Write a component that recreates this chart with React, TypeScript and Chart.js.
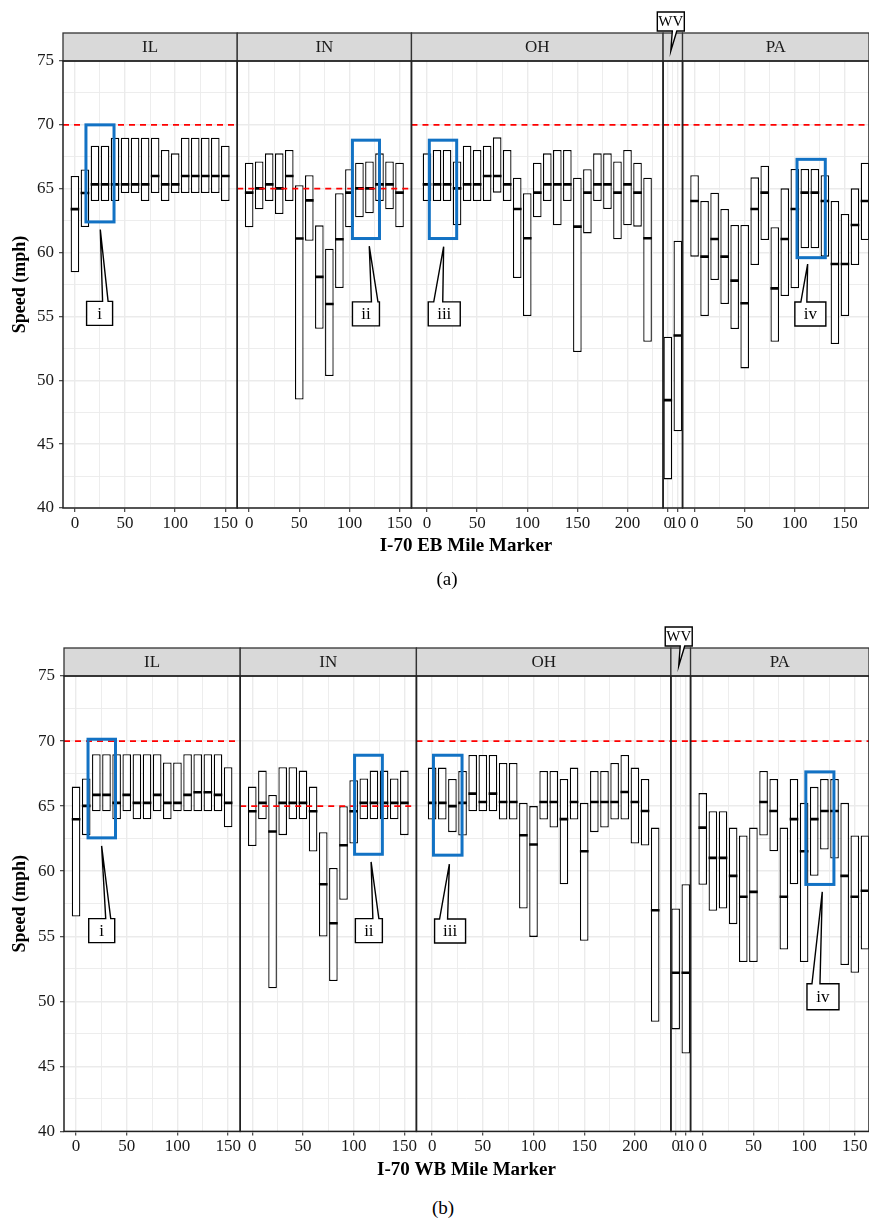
import React, { useEffect, useRef } from 'react';
import { Chart, registerables } from 'chart.js';

Chart.register(...registerables);

const SERIF = "'Liberation Serif', 'Times New Roman', Times, serif";
Chart.defaults.font.family = SERIF;

const STATES = ['IL', 'IN', 'OH', 'WV', 'PA'];
const SPEED_LIMITS = [70, 65, 70, 70, 70];

// Mile markers of the boxes
const MILES_IL = [0, 10, 20, 30, 40, 50, 60, 70, 80, 90, 100, 110, 120, 130, 140, 150];
const MILES_IN = [0, 10, 20, 30, 40, 50, 60, 70, 80, 90, 100, 110, 120, 130, 140, 150];
const MILES_OH = [0, 10, 20, 30, 40, 50, 60, 70, 80, 90, 100, 110, 120, 130, 140, 150, 160, 170, 180, 190, 200, 210, 220];
const MILES_WV = [0, 10];
const MILES_PA_EB = [0, 10, 20, 30, 40, 50, 60, 70, 80, 90, 100, 110, 120, 130, 140, 150, 160, 170];
const MILES_PA_WB = [0, 10, 20, 30, 40, 50, 60, 70, 80, 90, 100, 110, 120, 130, 140, 150, 160];

// ---------- I-70 EB ----------
const EB_IL_LOW = [58.45, 62.0, 64.04, 64.04, 64.04, 64.66, 64.66, 64.04, 64.66, 64.04, 64.66, 64.66, 64.66, 64.66, 64.66, 64.04];
const EB_IL_MED = [63.4, 64.66, 65.34, 65.34, 65.34, 65.34, 65.34, 65.34, 66.0, 65.34, 65.34, 66.0, 66.0, 66.0, 66.0, 66.0];
const EB_IL_HIGH = [66.0, 66.5, 68.37, 68.37, 69.0, 69.0, 69.0, 69.0, 69.0, 68.03, 67.77, 69.0, 69.0, 69.0, 69.0, 68.37];

const EB_IN_LOW = [61.98, 63.39, 64.04, 63.02, 64.04, 48.5, 60.93, 54.04, 50.33, 57.22, 61.98, 62.76, 63.07, 64.04, 63.39, 61.98];
const EB_IN_MED = [64.69, 65.03, 65.34, 65.03, 66.0, 61.1, 64.09, 58.1, 55.97, 61.04, 64.69, 65.03, 65.03, 65.34, 65.34, 64.69];
const EB_IN_HIGH = [67.04, 67.14, 67.77, 67.77, 68.03, 65.27, 66.05, 62.13, 60.3, 64.64, 66.52, 67.04, 67.14, 67.77, 67.14, 67.04];

const EB_OH_LOW = [64.04, 64.04, 64.04, 62.13, 64.04, 64.04, 64.04, 64.69, 64.04, 58.0, 55.03, 62.76, 64.04, 62.13, 64.04, 52.22, 61.5, 64.04, 63.41, 61.04, 62.13, 62.03, 53.02];
const EB_OH_MED = [65.34, 65.34, 65.34, 65.03, 65.34, 65.34, 66.0, 66.0, 65.34, 63.41, 61.12, 64.69, 65.34, 65.34, 65.34, 62.03, 64.69, 65.34, 65.34, 64.69, 65.34, 64.69, 61.12];
const EB_OH_HIGH = [67.77, 68.03, 68.03, 67.14, 68.37, 68.03, 68.37, 69.02, 68.03, 65.86, 64.64, 67.04, 67.77, 68.03, 68.03, 65.86, 66.52, 67.77, 67.77, 67.14, 68.03, 67.04, 65.86];

const EB_WV_LOW = [42.24, 46.0];
const EB_WV_MED = [48.45, 53.51];
const EB_WV_HIGH = [53.41, 60.93];

const EB_PA_LOW = [59.68, 55.03, 57.85, 55.97, 54.01, 50.93, 59.03, 60.98, 53.02, 56.6, 57.2, 60.33, 60.33, 59.68, 52.84, 55.03, 59.03, 60.98];
const EB_PA_MED = [64.04, 59.68, 61.06, 59.68, 57.8, 56.03, 63.41, 64.69, 57.2, 61.06, 63.41, 64.69, 64.69, 64.04, 59.1, 59.1, 62.16, 64.04];
const EB_PA_HIGH = [66.05, 64.04, 64.69, 63.41, 62.16, 62.16, 65.89, 66.8, 61.98, 65.03, 66.54, 66.54, 66.54, 66.05, 64.04, 63.02, 65.03, 67.04];

// ---------- I-70 WB ----------
const WB_IL_LOW = [56.52, 62.77, 64.61, 64.61, 63.99, 64.61, 63.99, 63.99, 64.61, 63.99, 64.61, 64.61, 64.61, 64.61, 64.61, 63.38];
const WB_IL_MED = [63.99, 65.02, 65.86, 65.86, 65.25, 65.86, 65.25, 65.25, 65.86, 65.25, 65.25, 65.86, 66.07, 66.07, 65.86, 65.25];
const WB_IL_HIGH = [66.5, 67.12, 68.99, 68.99, 68.99, 68.99, 68.99, 68.99, 68.99, 68.35, 68.35, 68.99, 68.99, 68.99, 68.99, 67.99];

const WB_IN_LOW = [61.94, 63.99, 51.0, 62.77, 63.99, 63.99, 61.51, 54.98, 51.55, 57.8, 62.13, 63.99, 63.99, 63.99, 63.99, 62.77];
const WB_IN_MED = [64.61, 65.25, 63.05, 65.25, 65.25, 65.25, 64.61, 59.0, 56.0, 61.99, 64.61, 65.25, 65.25, 65.25, 65.25, 65.25];
const WB_IN_HIGH = [66.5, 67.73, 65.86, 67.99, 67.99, 67.73, 66.5, 63.0, 60.25, 64.99, 66.99, 67.12, 67.73, 67.73, 67.12, 67.73];

const WB_OH_LOW = [63.97, 63.97, 63.0, 62.74, 64.61, 64.61, 64.61, 63.97, 63.97, 57.13, 54.95, 63.97, 63.35, 59.0, 63.97, 54.65, 63.0, 63.35, 63.97, 63.97, 62.12, 61.97, 48.43];
const WB_OH_MED = [65.25, 65.25, 65.0, 65.25, 65.96, 65.32, 65.96, 65.32, 65.32, 62.76, 62.05, 65.32, 65.32, 64.0, 65.32, 61.53, 65.32, 65.32, 65.32, 66.09, 65.32, 64.63, 57.0];
const WB_OH_HIGH = [67.96, 67.96, 67.09, 67.7, 68.93, 68.93, 68.93, 68.32, 68.32, 65.25, 65.0, 67.7, 67.7, 67.09, 67.96, 65.25, 67.7, 67.7, 68.32, 68.93, 67.96, 67.09, 63.35];

const WB_WV_LOW = [47.84, 45.99];
const WB_WV_MED = [52.19, 52.19];
const WB_WV_HIGH = [57.13, 59.0];

const WB_PA_LOW = [58.95, 56.95, 57.13, 55.93, 53.01, 53.01, 62.74, 61.53, 53.98, 59.0, 53.01, 59.64, 61.66, 60.97, 52.78, 52.19, 53.98];
const WB_PA_MED = [63.35, 61.02, 61.02, 59.64, 58.03, 58.41, 65.32, 64.63, 58.03, 64.0, 61.53, 64.0, 64.63, 64.63, 59.64, 58.03, 58.5];
const WB_PA_HIGH = [66.0, 64.61, 64.61, 63.35, 62.74, 63.35, 67.7, 67.09, 63.35, 67.09, 65.25, 66.48, 67.09, 67.09, 65.25, 62.74, 62.74];

// Axis ranges of each facet (mile markers)
const EB_RANGES = [[-11.9, 161.9], [-11.9, 161.9], [-15.5, 235.5], [-4.7, 14.7], [-12, 174]];
const WB_RANGES = [[-11.9, 161.9], [-11.9, 161.9], [-15.5, 235.5], [-4.7, 14.7], [-12, 164]];

// Highlighted groups (blue rectangles) and their callout labels
const EB_HIGHLIGHTS = [
  { facet: 'IL', x0: 11, x1: 39, y0: 62.4, y1: 70.0 },
  { facet: 'IN', x0: 103, x1: 130, y0: 61.1, y1: 68.8 },
  { facet: 'OH', x0: 2.3, x1: 29.6, y0: 61.1, y1: 68.8 },
  { facet: 'PA', x0: 102.2, x1: 130.4, y0: 59.6, y1: 67.3 },
];
const WB_HIGHLIGHTS = [
  { facet: 'IL', x0: 11.8, x1: 38.9, y0: 62.56, y1: 70.14 },
  { facet: 'IN', x0: 100.9, x1: 128.3, y0: 61.3, y1: 68.91 },
  { facet: 'OH', x0: 1.3, x1: 29.5, y0: 61.23, y1: 68.91 },
  { facet: 'PA', x0: 101.7, x1: 129.4, y0: 58.98, y1: 67.63 },
];
const EB_CALLOUTS = [
  { facet: 'IL', text: 'i', x: 24.6, y: 55.24, tipX: 25.3, tipY: 61.8, w: 26, h: 24, b0: 3, b1: 8.5 },
  { facet: 'IN', text: 'ii', x: 116.5, y: 55.2, tipX: 119.8, tipY: 60.5, w: 27, h: 24, b0: 5.5, b1: 12 },
  { facet: 'OH', text: 'iii', x: 17.2, y: 55.2, tipX: 16.6, tipY: 60.46, w: 32, h: 24, b0: -10.5, b1: -1.5 },
  { facet: 'PA', text: 'iv', x: 115.5, y: 55.19, tipX: 112.8, tipY: 59.1, w: 31, h: 24, b0: -9.5, b1: -3.5 },
];
const WB_CALLOUTS = [
  { facet: 'IL', text: 'i', x: 25.3, y: 55.43, tipX: 25.2, tipY: 61.94, w: 26, h: 24, b0: 4, b1: 9 },
  { facet: 'IN', text: 'ii', x: 115, y: 55.43, tipX: 117.2, tipY: 60.71, w: 27, h: 24, b0: 4, b1: 10 },
  { facet: 'OH', text: 'iii', x: 17.7, y: 55.4, tipX: 17.0, tipY: 60.54, w: 31, h: 24, b0: -10.5, b1: -2.5 },
  { facet: 'PA', text: 'iv', x: 118.6, y: 50.35, tipX: 117.9, tipY: 58.41, w: 32, h: 26, b0: -11, b1: -3 },
];

const EB_SERIES = [
  [MILES_IL, EB_IL_LOW, EB_IL_MED, EB_IL_HIGH],
  [MILES_IN, EB_IN_LOW, EB_IN_MED, EB_IN_HIGH],
  [MILES_OH, EB_OH_LOW, EB_OH_MED, EB_OH_HIGH],
  [MILES_WV, EB_WV_LOW, EB_WV_MED, EB_WV_HIGH],
  [MILES_PA_EB, EB_PA_LOW, EB_PA_MED, EB_PA_HIGH],
];
const WB_SERIES = [
  [MILES_IL, WB_IL_LOW, WB_IL_MED, WB_IL_HIGH],
  [MILES_IN, WB_IN_LOW, WB_IN_MED, WB_IN_HIGH],
  [MILES_OH, WB_OH_LOW, WB_OH_MED, WB_OH_HIGH],
  [MILES_WV, WB_WV_LOW, WB_WV_MED, WB_WV_HIGH],
  [MILES_PA_WB, WB_PA_LOW, WB_PA_MED, WB_PA_HIGH],
];

const TEXT = '#1a1a1a';
const GRID = '#ebebeb';
const BLUE = '#1272c4';

function drawCallout(ctx: CanvasRenderingContext2D, cx: number, cy: number, w: number, h: number,
  tipX: number, tipY: number, b0: number, b1: number, text: string) {
  const l = cx - w / 2, r = cx + w / 2, t = cy - h / 2, b = cy + h / 2;
  ctx.beginPath();
  ctx.moveTo(l, t);
  ctx.lineTo(cx + b0, t);
  ctx.lineTo(tipX, tipY);
  ctx.lineTo(cx + b1, t);
  ctx.lineTo(r, t);
  ctx.lineTo(r, b);
  ctx.lineTo(l, b);
  ctx.closePath();
  ctx.fillStyle = '#ffffff';
  ctx.fill();
  ctx.lineWidth = 1.4;
  ctx.strokeStyle = '#000';
  ctx.stroke();
  ctx.fillStyle = '#000';
  ctx.font = `17px ${SERIF}`;
  ctx.textAlign = 'center';
  ctx.textBaseline = 'middle';
  ctx.fillText(text, cx, cy + 1);
}

const facetPlugin = {
  id: 'facetDecor',
  afterDraw(chart: any, _args: any, opts: any) {
    const { ctx, chartArea } = chart;
    const { top, bottom } = chartArea;
    const yS = chart.scales.y;
    const stripH = opts.stripH;
    ctx.save();
    opts.facets.forEach((st: string) => {
      const s = chart.scales['x' + st];
      const l = s.left, r = s.right;
      ctx.fillStyle = '#d9d9d9';
      ctx.fillRect(l, top - stripH, r - l, stripH);
      ctx.strokeStyle = '#333';
      ctx.lineWidth = 1.3;
      ctx.strokeRect(l, top - stripH, r - l, stripH);
      if (st !== 'WV') {
        ctx.fillStyle = TEXT;
        ctx.font = `17px ${SERIF}`;
        ctx.textAlign = 'center';
        ctx.textBaseline = 'middle';
        ctx.fillText(st, (l + r) / 2, top - stripH / 2 + 1);
      }
      ctx.strokeStyle = '#222';
      ctx.lineWidth = 1.5;
      ctx.strokeRect(l, top, r - l, bottom - top);
    });
    // highlighted groups
    ctx.strokeStyle = BLUE;
    ctx.lineWidth = 3;
    opts.highlights.forEach((hl: any) => {
      const s = chart.scales['x' + hl.facet];
      const x0 = s.getPixelForValue(hl.x0), x1 = s.getPixelForValue(hl.x1);
      const y0 = yS.getPixelForValue(hl.y1), y1 = yS.getPixelForValue(hl.y0);
      ctx.strokeRect(x0, y0, x1 - x0, y1 - y0);
    });
    // callouts
    opts.callouts.forEach((c: any) => {
      const s = chart.scales['x' + c.facet];
      drawCallout(ctx, s.getPixelForValue(c.x), yS.getPixelForValue(c.y), c.w, c.h,
        s.getPixelForValue(c.tipX), yS.getPixelForValue(c.tipY), c.b0, c.b1, c.text);
    });
    // WV speech bubble above its strip
    const wv = chart.scales.xWV;
    const cx = (wv.left + wv.right) / 2 - 2;
    const bw = 27, bh = 19;
    const bb = top - stripH - 2, bt = bb - bh;
    ctx.beginPath();
    ctx.moveTo(cx - bw / 2, bt);
    ctx.lineTo(cx + bw / 2, bt);
    ctx.lineTo(cx + bw / 2, bb);
    ctx.lineTo(cx + 6, bb);
    ctx.lineTo(cx, top - stripH + 18);
    ctx.lineTo(cx + 1.5, bb);
    ctx.lineTo(cx - bw / 2, bb);
    ctx.closePath();
    ctx.fillStyle = '#fff';
    ctx.fill();
    ctx.strokeStyle = '#000';
    ctx.lineWidth = 1.4;
    ctx.stroke();
    ctx.fillStyle = '#000';
    ctx.font = `15px ${SERIF}`;
    ctx.textAlign = 'center';
    ctx.textBaseline = 'middle';
    ctx.fillText('WV', cx, (bt + bb) / 2 + 1);
    ctx.restore();
  },
};

interface PanelCfg {
  series: any[];
  ranges: number[][];
  highlights: any[];
  callouts: any[];
  xTitle: string;
  yAxisWidth: number;
  padBottom: number;
  xAxisHeight: number;
}

function buildConfig(p: PanelCfg): any {
  const scales: any = {};
  const datasets: any[] = [];
  STATES.forEach((st, i) => {
    const id = 'x' + st;
    const [min, max] = p.ranges[i];
    const major = st === 'WV' ? 10 : 50;
    const isMajor = (v: number) => Math.abs(v % major) < 1e-6;
    scales[id] = {
      type: 'linear',
      axis: 'x',
      position: 'bottom',
      stack: 'facets',
      stackWeight: max - min,
      min,
      max,
      offset: false,
      bounds: 'ticks',
      ticks: {
        stepSize: major / 2,
        includeBounds: false,
        autoSkip: false,
        maxRotation: 0,
        minRotation: 0,
        padding: 1,
        color: TEXT,
        font: { size: 17, family: SERIF },
        callback: (v: number) => (isMajor(v) ? String(v) : ''),
      },
      grid: {
        offset: false,
        color: GRID,
        lineWidth: (c: any) => (c.tick && isMajor(c.tick.value) ? 1.4 : 0.9),
        tickLength: 4,
        tickWidth: 1.1,
        tickColor: (c: any) => (c.tick && isMajor(c.tick.value) ? '#333' : 'rgba(0,0,0,0)'),
      },
      border: { display: false },
      afterFit: (s: any) => {
        s.height = p.xAxisHeight;
        s.paddingLeft = 0;
        s.paddingRight = 0;
      },
    };
    const [miles, low, med, high] = p.series[i];
    const limit = SPEED_LIMITS[i];
    datasets.push({
      type: 'line',
      xAxisID: id,
      yAxisID: 'y',
      data: [{ x: min, y: limit }, { x: max, y: limit }],
      borderColor: '#ff0000',
      borderWidth: 1.7,
      borderDash: [6, 5],
      pointRadius: 0,
      fill: false,
      order: 0,
    });
    datasets.push({
      type: 'scatter',
      xAxisID: id,
      yAxisID: 'y',
      data: miles.map((m: number, k: number) => ({ x: m, y: med[k] })),
      showLine: false,
      pointStyle: 'line',
      pointRadius: 4.3,
      pointBorderWidth: 2.6,
      pointBorderColor: '#000',
      borderColor: '#000',
      borderWidth: 2.6,
      order: 1,
    });
    datasets.push({
      type: 'bar',
      xAxisID: id,
      yAxisID: 'y',
      data: miles.map((m: number, k: number) => ({ x: m, y: [low[k], high[k]] })),
      backgroundColor: '#ffffff',
      borderColor: '#000000',
      borderWidth: 1.3,
      borderSkipped: false,
      barThickness: 8.6,
      grouped: false,
      inflateAmount: 0,
      order: 2,
    });
  });

  const isMajorY = (v: number) => Math.abs(v % 5) < 1e-6;
  scales.y = {
    type: 'linear',
    position: 'left',
    min: 40,
    max: 75,
    beginAtZero: false,
    ticks: {
      stepSize: 2.5,
      autoSkip: false,
      padding: 5,
      color: TEXT,
      font: { size: 17, family: SERIF },
      callback: (v: number) => (isMajorY(v) ? String(v) : ''),
    },
    grid: {
      color: GRID,
      lineWidth: (c: any) => (c.tick && isMajorY(c.tick.value) ? 1.4 : 0.9),
      tickLength: 4,
      tickWidth: 1.1,
      tickColor: (c: any) => (c.tick && isMajorY(c.tick.value) ? '#333' : 'rgba(0,0,0,0)'),
    },
    border: { display: false },
    title: {
      display: true,
      text: 'Speed (mph)',
      color: '#000',
      font: { size: 18, weight: 'bold', family: SERIF },
      padding: { top: 10, bottom: 0 },
    },
    afterFit: (s: any) => {
      s.width = p.yAxisWidth;
      s.paddingTop = 0;
      s.paddingBottom = 0;
    },
  };

  return {
    type: 'bar',
    data: { datasets },
    options: {
      responsive: false,
      animation: false,
      devicePixelRatio: 1,
      events: [],
      layout: { autoPadding: false, padding: { top: 61, left: 0, right: 0, bottom: p.padBottom } },
      plugins: {
        legend: { display: false },
        tooltip: { enabled: false },
        title: {
          display: true,
          text: p.xTitle,
          position: 'bottom',
          fullSize: false,
          color: '#000',
          font: { size: 19, weight: 'bold', family: SERIF },
          padding: { top: 0, bottom: 0 },
        },
        facetDecor: {
          facets: STATES,
          stripH: 28,
          highlights: p.highlights,
          callouts: p.callouts,
        },
      },
      scales,
    },
    plugins: [facetPlugin],
  };
}

function Panel({ cfg, top }: { cfg: PanelCfg; top: number }) {
  const ref = useRef<HTMLCanvasElement>(null);
  useEffect(() => {
    if (!ref.current) return;
    const chart = new Chart(ref.current, buildConfig(cfg));
    return () => chart.destroy();
  }, []);
  return (
    <canvas
      ref={ref}
      width={869}
      height={570}
      style={{ position: 'absolute', left: 0, top, width: 869, height: 570 }}
    />
  );
}

const EB_CFG: PanelCfg = {
  series: EB_SERIES,
  ranges: EB_RANGES,
  highlights: EB_HIGHLIGHTS,
  callouts: EB_CALLOUTS,
  xTitle: 'I-70 EB Mile Marker',
  yAxisWidth: 63,
  padBottom: 12.2,
  xAxisHeight: 27,
};
const WB_CFG: PanelCfg = {
  series: WB_SERIES,
  ranges: WB_RANGES,
  highlights: WB_HIGHLIGHTS,
  callouts: WB_CALLOUTS,
  xTitle: 'I-70 WB Mile Marker',
  yAxisWidth: 64,
  padBottom: 3.8,
  xAxisHeight: 27,
};

export default function App() {
  const cap: React.CSSProperties = {
    position: 'absolute',
    transform: 'translateX(-50%)',
    font: `19px ${SERIF}`,
    lineHeight: '24px',
    color: '#000',
    whiteSpace: 'nowrap',
  };
  return (
    <div style={{ position: 'absolute', left: 0, top: 0, width: 869, height: 1219, background: '#fff', overflow: 'hidden' }}>
      <Panel cfg={EB_CFG} top={0} />
      <div style={{ ...cap, left: 447, top: 567 }}>(a)</div>
      <Panel cfg={WB_CFG} top={615} />
      <div style={{ ...cap, left: 443, top: 1196 }}>(b)</div>
    </div>
  );
}
